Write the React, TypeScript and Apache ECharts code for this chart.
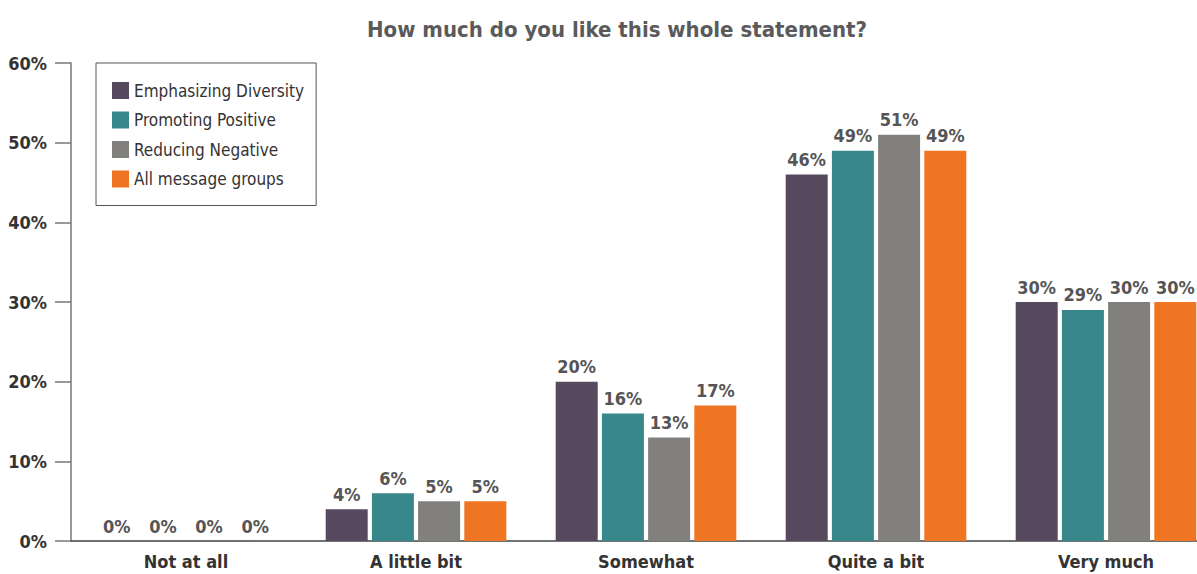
import React, { useEffect, useRef } from "react";
import * as echarts from "echarts";

const categories = ["Not at all", "A little bit", "Somewhat", "Quite a bit", "Very much"];
const seriesNames = ["Emphasizing Diversity", "Promoting Positive", "Reducing Negative", "All message groups"];
const emphasizingDiversity = [0, 4, 20, 46, 30];
const promotingPositive = [0, 6, 16, 49, 29];
const reducingNegative = [0, 5, 13, 51, 30];
const allMessageGroups = [0, 5, 17, 49, 30];
const seriesValues = [emphasizingDiversity, promotingPositive, reducingNegative, allMessageGroups];
const colors = ["#574a5e", "#38878a", "#82807c", "#f07522"];

const FONT = "'DejaVu Sans Condensed', 'Liberation Sans Narrow', sans-serif";

export default function App() {
  const ref = useRef<HTMLDivElement>(null);
  useEffect(() => {
    const chart = echarts.init(ref.current!, null, { renderer: "svg" });
    chart.setOption({
      animation: false,
      textStyle: { fontFamily: FONT },
      title: {
        text: "How much do you like this whole statement?",
        left: 612,
        top: 13,
        textAlign: "center",
        textStyle: { fontFamily: FONT, fontSize: 22, fontWeight: "bold", color: "#5a5a5a" },
      },
      legend: {
        orient: "vertical",
        left: 96,
        top: 63,
        padding: [19, 12, 18, 16],
        itemWidth: 17,
        itemHeight: 17,
        itemGap: 12.5,
        borderColor: "#555",
        borderWidth: 1,
        icon: "rect",
        data: seriesNames,
        textStyle: { fontFamily: FONT, fontSize: 17, color: "#333", padding: [0, 0, 0, 0] },
      },
      grid: { left: 71, right: 0, top: 63, bottom: 33, containLabel: false },
      xAxis: {
        type: "category",
        data: categories,
        axisLine: { lineStyle: { color: "#444", width: 1.5 } },
        axisTick: { show: false },
        axisLabel: { fontFamily: FONT, fontSize: 18, fontWeight: "bold", color: "#333", margin: 11 },
      },
      yAxis: {
        type: "value",
        min: 0,
        max: 60,
        interval: 10,
        axisLine: { show: true, lineStyle: { color: "#777", width: 1.5 } },
        axisTick: { show: true, length: 16, lineStyle: { color: "#777", width: 1.5 } },
        splitLine: { show: false },
        axisLabel: {
          formatter: "{value}%",
          fontFamily: FONT,
          fontSize: 18,
          fontWeight: "bold",
          color: "#333",
          margin: 24,
        },
      },
      series: seriesNames.map((name, i) => ({
        name,
        type: "bar",
        data: seriesValues[i],
        barWidth: 42,
        barGap: "10%",
        itemStyle: { color: colors[i] },
        label: {
          show: true,
          position: "top",
          distance: 6,
          formatter: "{c}%",
          fontFamily: FONT,
          fontSize: 18,
          fontWeight: "bold",
          color: "#555",
        },
      })),
    });
    return () => chart.dispose();
  }, []);
  return (
    <div style={{ position: "absolute", left: 0, top: 0, width: 1197, height: 574, overflow: "hidden" }}>
      <div ref={ref} style={{ width: 1221, height: 574 }} />
    </div>
  );
}
